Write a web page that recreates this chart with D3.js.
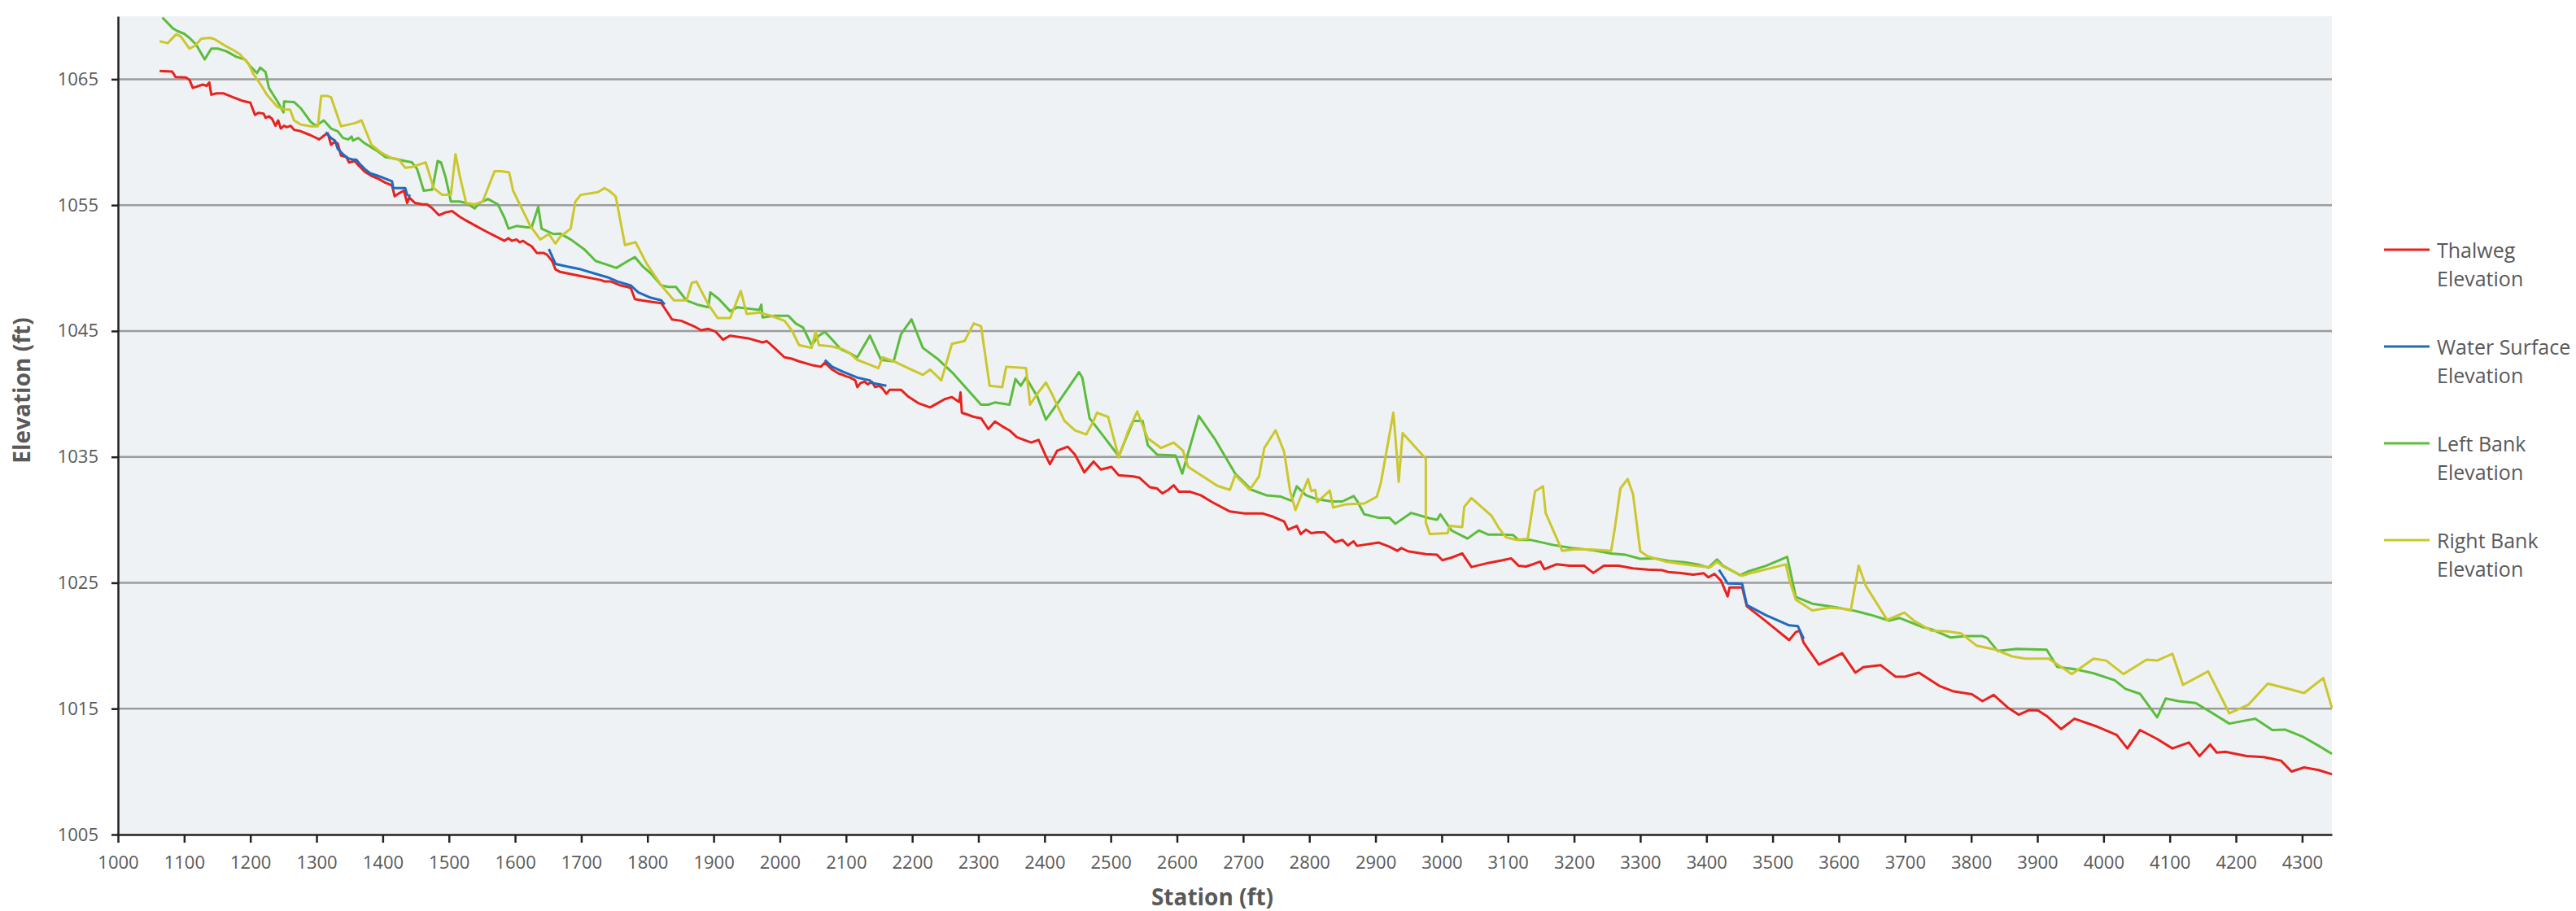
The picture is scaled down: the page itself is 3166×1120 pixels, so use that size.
<!DOCTYPE html>
<html>
<head>
<meta charset="utf-8">
<script src="https://cdn.jsdelivr.net/npm/d3@7"></script>
<style>
	body { margin: 0; background: #fff; }
	svg { display: block; font-family: 'Open Sans', sans-serif; }
</style>
</head>
<body>
<div id="chart"></div>
<script>

// Series (station ft, elevation ft)
var thalwegStation = [1063,1082,1087,1103,1108,1113,1128,1134,1138,1141,1149,1159,1174,1187,1200,1207,1212,1220,1223,1228,1233,1238,1242,1246,1251,1255,1261,1266,1276,1291,1304,1312,1317,1322,1327,1332,1337,1345,1349,1358,1363,1373,1383,1393,1404,1414,1418,1424,1432,1437,1440,1449,1460,1467,1475,1485,1495,1505,1516,1526,1541,1556,1572,1584,1590,1595,1602,1607,1612,1618,1625,1633,1643,1648,1656,1661,1668,1689,1709,1730,1735,1745,1760,1770,1775,1781,1791,1805,1821,1837,1851,1870,1881,1892,1903,1914,1925,1952,1974,1980,1985,1996,2007,2018,2029,2051,2062,2068,2079,2089,2095,2100,2106,2114,2117,2122,2128,2133,2139,2144,2150,2155,2161,2166,2183,2194,2210,2227,2238,2249,2260,2271,2273,2275,2282,2293,2304,2315,2325,2336,2347,2358,2369,2380,2391,2402,2408,2419,2435,2446,2460,2474,2485,2501,2512,2534,2543,2559,2570,2578,2587,2595,2603,2620,2636,2653,2680,2702,2729,2746,2762,2768,2781,2787,2795,2803,2812,2823,2839,2850,2858,2867,2872,2905,2921,2933,2939,2949,2976,2993,3001,3015,3031,3045,3070,3092,3105,3116,3127,3138,3149,3155,3174,3193,3215,3229,3245,3267,3289,3311,3333,3342,3361,3380,3396,3403,3412,3422,3432,3435,3454,3461,3490,3525,3535,3541,3547,3570,3605,3625,3637,3663,3686,3699,3721,3753,3772,3801,3817,3834,3856,3872,3888,3901,3914,3936,3956,3991,4020,4036,4055,4081,4104,4129,4145,4161,4171,4184,4216,4242,4268,4284,4303,4325,4345];
var thalwegElev = [1065.66,1065.6,1065.17,1065.13,1064.95,1064.31,1064.57,1064.48,1064.74,1063.77,1063.88,1063.88,1063.56,1063.3,1063.13,1062.16,1062.33,1062.27,1061.94,1062.05,1061.84,1061.3,1061.73,1061.08,1061.3,1061.19,1061.3,1060.98,1060.87,1060.55,1060.22,1060.55,1060.7,1059.79,1060.01,1059.9,1058.93,1058.82,1058.39,1058.5,1058.18,1057.64,1057.32,1057.1,1056.78,1056.57,1055.71,1055.92,1056.14,1055.17,1055.6,1055.17,1055.06,1055.06,1054.74,1054.2,1054.42,1054.52,1054.09,1053.77,1053.34,1052.91,1052.48,1052.16,1052.37,1052.16,1052.27,1052.05,1052.16,1051.94,1051.73,1051.19,1051.19,1051.08,1050.55,1049.9,1049.69,1049.47,1049.26,1049.04,1048.93,1048.93,1048.61,1048.5,1048.39,1047.53,1047.43,1047.32,1047.21,1045.92,1045.81,1045.38,1045.06,1045.17,1044.95,1044.31,1044.63,1044.42,1044.09,1044.2,1043.98,1043.45,1042.91,1042.8,1042.59,1042.26,1042.16,1042.48,1041.94,1041.62,1041.51,1041.4,1041.3,1041.08,1040.54,1040.87,1040.97,1040.76,1040.97,1040.54,1040.65,1040.44,1040.01,1040.33,1040.33,1039.79,1039.25,1038.93,1039.25,1039.58,1039.75,1039.36,1040.12,1038.5,1038.39,1038.18,1038.07,1037.21,1037.81,1037.43,1037.1,1036.57,1036.35,1036.14,1036.35,1035.06,1034.42,1035.49,1035.81,1035.17,1033.77,1034.63,1033.99,1034.2,1033.55,1033.45,1033.35,1032.59,1032.49,1032.1,1032.38,1032.75,1032.23,1032.23,1031.95,1031.41,1030.66,1030.51,1030.51,1030.23,1029.86,1029.22,1029.52,1028.87,1029.22,1028.94,1029.0,1029.0,1028.23,1028.4,1027.97,1028.29,1027.93,1028.19,1027.86,1027.54,1027.76,1027.5,1027.28,1027.22,1026.79,1027.0,1027.33,1026.25,1026.57,1026.79,1026.94,1026.36,1026.29,1026.47,1026.68,1026.08,1026.47,1026.36,1026.36,1025.78,1026.36,1026.36,1026.14,1026.04,1026.0,1025.86,1025.77,1025.64,1025.75,1025.43,1025.71,1025.17,1023.92,1024.63,1024.63,1023.13,1021.94,1020.44,1021.08,1021.19,1020.22,1018.5,1019.4,1017.86,1018.29,1018.46,1017.53,1017.53,1017.86,1016.78,1016.39,1016.14,1015.6,1016.09,1015.06,1014.52,1014.89,1014.85,1014.42,1013.38,1014.2,1013.56,1012.91,1011.84,1013.3,1012.59,1011.84,1012.31,1011.23,1012.16,1011.51,1011.58,1011.23,1011.15,1010.87,1010.01,1010.33,1010.12,1009.79];

// null elevations mark the gaps between the measured water surface reaches
var waterStation = [1314,1322,1328,1332,1340,1348,1355,1360,1365,1373,1381,1393,1404,1414,1416,1426,1434,1437,1442,1500,1651,1661,1679,1699,1719,1740,1755,1775,1786,1805,1821,1826,1900,2068,2079,2095,2117,2136,2139,2161,2300,3419,3432,3454,3461,3490,3525,3538,3547];
var waterElev = [1060.8,1060.33,1060.12,1059.47,1059.04,1058.72,1058.61,1058.61,1058.29,1057.86,1057.53,1057.32,1057.1,1056.89,1056.35,1056.35,1056.35,1055.81,1055.71,null,1051.51,1050.33,1050.11,1049.9,1049.58,1049.26,1048.93,1048.61,1048.07,1047.64,1047.43,1047.1,null,1042.7,1042.16,1041.77,1041.3,1041.08,1040.87,1040.65,null,1026.03,1024.95,1024.91,1023.23,1022.42,1021.62,1021.56,1020.54];

var leftStation = [1067,1083,1090,1100,1108,1118,1131,1141,1151,1164,1179,1192,1200,1210,1215,1223,1228,1241,1250,1251,1266,1276,1291,1299,1311,1322,1332,1340,1348,1353,1355,1363,1373,1383,1393,1404,1414,1424,1434,1444,1452,1462,1475,1483,1488,1495,1503,1516,1526,1539,1546,1559,1574,1584,1590,1602,1618,1625,1635,1640,1658,1668,1684,1704,1722,1735,1753,1770,1781,1793,1805,1821,1832,1843,1859,1875,1892,1895,1908,1925,1936,1952,1969,1972,1974,1991,2013,2024,2035,2048,2059,2068,2079,2092,2106,2117,2136,2153,2172,2183,2199,2216,2238,2260,2282,2304,2315,2325,2347,2356,2364,2372,2389,2402,2424,2452,2457,2468,2490,2512,2534,2548,2556,2570,2598,2608,2633,2658,2688,2713,2735,2757,2773,2781,2795,2812,2834,2850,2867,2872,2883,2905,2921,2930,2954,2982,2993,2998,3015,3039,3056,3070,3092,3108,3116,3135,3168,3196,3229,3256,3278,3300,3322,3344,3367,3387,3403,3416,3425,3451,3464,3490,3522,3535,3560,3599,3625,3650,3676,3692,3727,3740,3769,3792,3817,3824,3840,3869,3914,3930,3959,3985,4017,4033,4055,4081,4094,4113,4139,4158,4190,4229,4255,4274,4300,4325,4345];
var leftElev = [1069.9,1069.04,1068.82,1068.61,1068.29,1067.75,1066.57,1067.43,1067.43,1067.21,1066.78,1066.57,1066.03,1065.49,1065.92,1065.56,1064.31,1063.23,1062.37,1063.23,1063.19,1062.7,1061.62,1061.3,1061.73,1061.08,1060.87,1060.33,1060.22,1060.44,1060.12,1060.33,1059.9,1059.58,1059.26,1058.82,1058.72,1058.61,1058.5,1058.4,1057.86,1056.14,1056.24,1058.5,1058.4,1057.21,1055.28,1055.28,1055.17,1054.74,1055.17,1055.49,1055.06,1053.99,1053.13,1053.34,1053.23,1053.23,1054.85,1053.13,1052.7,1052.74,1052.27,1051.51,1050.55,1050.33,1050.01,1050.55,1050.87,1050.12,1049.58,1048.61,1048.5,1048.5,1047.43,1047.1,1046.89,1048.07,1047.53,1046.57,1046.89,1046.78,1046.67,1047.1,1046.07,1046.2,1046.2,1045.6,1045.28,1043.88,1044.63,1044.95,1044.31,1043.55,1043.23,1042.91,1044.63,1042.7,1042.59,1044.74,1045.92,1043.66,1042.8,1041.73,1040.44,1039.15,1039.15,1039.32,1039.15,1041.19,1040.65,1041.3,1039.79,1037.96,1039.58,1041.73,1041.3,1038.07,1036.57,1035.06,1037.86,1037.86,1035.92,1035.18,1035.11,1033.67,1038.25,1036.36,1033.67,1032.38,1031.95,1031.84,1031.52,1032.66,1031.95,1031.63,1031.46,1031.46,1031.89,1031.52,1030.44,1030.16,1030.16,1029.69,1030.55,1030.12,1030.01,1030.44,1029.15,1028.51,1029.15,1028.83,1028.83,1028.79,1028.4,1028.4,1028.01,1027.76,1027.58,1027.33,1027.22,1026.9,1026.94,1026.72,1026.63,1026.46,1026.2,1026.85,1026.35,1025.6,1025.92,1026.35,1027.06,1023.88,1023.34,1023.02,1022.76,1022.42,1021.99,1022.2,1021.47,1021.3,1020.65,1020.76,1020.76,1020.61,1019.58,1019.75,1019.68,1018.33,1018.11,1017.81,1017.25,1016.57,1016.18,1014.31,1015.81,1015.6,1015.45,1014.85,1013.81,1014.2,1013.3,1013.34,1012.8,1012.05,1011.41];

var rightStation = [1063,1075,1088,1095,1108,1116,1126,1139,1146,1159,1174,1184,1197,1205,1215,1225,1241,1251,1260,1266,1276,1291,1302,1307,1317,1322,1337,1358,1368,1383,1398,1414,1424,1434,1444,1465,1477,1490,1503,1510,1516,1526,1539,1551,1569,1579,1591,1597,1610,1623,1638,1651,1661,1668,1684,1691,1699,1725,1735,1742,1752,1766,1782,1799,1821,1840,1859,1867,1874,1892,1906,1925,1941,1950,1969,1985,1996,2007,2018,2029,2048,2054,2059,2079,2095,2106,2117,2128,2149,2155,2172,2194,2216,2227,2244,2260,2279,2293,2304,2317,2336,2342,2372,2378,2389,2402,2411,2430,2446,2463,2474,2479,2496,2512,2526,2540,2556,2576,2595,2609,2617,2661,2680,2688,2710,2724,2732,2749,2762,2771,2779,2798,2803,2809,2812,2831,2836,2856,2883,2902,2908,2927,2933,2935,2941,2976,2976,2982,3009,3012,3031,3034,3045,3075,3086,3097,3113,3130,3141,3153,3157,3182,3199,3226,3256,3262,3270,3281,3289,3300,3311,3339,3366,3393,3406,3416,3425,3454,3470,3520,3525,3535,3560,3586,3602,3618,3630,3641,3673,3699,3715,3740,3766,3785,3808,3837,3862,3882,3917,3952,3985,4004,4030,4065,4081,4104,4120,4158,4190,4219,4248,4280,4303,4332,4345];
var rightElev = [1068.01,1067.86,1068.57,1068.39,1067.43,1067.64,1068.22,1068.29,1068.18,1067.75,1067.32,1067.0,1066.24,1065.38,1064.63,1063.77,1062.8,1062.59,1062.59,1061.73,1061.4,1061.26,1061.26,1063.66,1063.66,1063.56,1061.26,1061.51,1061.73,1059.79,1059.15,1058.72,1058.65,1057.96,1058.03,1058.39,1056.35,1055.81,1055.81,1059.04,1057.43,1055.17,1055.06,1055.28,1057.69,1057.69,1057.6,1056.14,1054.74,1053.34,1052.27,1052.7,1051.94,1052.48,1053.13,1055.28,1055.81,1056.03,1056.35,1056.14,1055.7,1051.83,1052.05,1050.33,1048.61,1047.43,1047.43,1048.82,1048.93,1047.1,1046.03,1046.03,1048.18,1046.35,1046.46,1046.24,1046.03,1045.81,1045.06,1043.88,1043.66,1044.95,1043.88,1043.77,1043.55,1043.23,1042.7,1042.48,1042.05,1042.91,1042.59,1042.05,1041.51,1041.94,1041.08,1043.98,1044.2,1045.6,1045.38,1040.65,1040.54,1042.16,1042.05,1039.15,1040.01,1040.91,1040.01,1037.86,1037.1,1036.78,1037.86,1038.5,1038.18,1034.95,1037.0,1038.61,1036.46,1035.71,1036.14,1035.5,1034.21,1032.7,1032.38,1033.56,1032.38,1033.45,1035.71,1037.11,1035.39,1032.27,1030.77,1033.24,1032.27,1032.38,1031.41,1032.32,1030.98,1031.24,1031.3,1031.84,1032.92,1038.51,1034.64,1033.02,1036.89,1034.85,1029.8,1028.87,1028.94,1029.52,1029.43,1031.02,1031.73,1030.34,1029.37,1028.62,1028.4,1028.51,1032.27,1032.66,1030.55,1027.54,1027.65,1027.65,1027.54,1029.48,1032.49,1033.24,1032.06,1027.5,1027.11,1026.68,1026.47,1026.29,1026.24,1026.67,1026.29,1025.56,1025.81,1026.46,1025.28,1023.66,1022.8,1023.02,1022.97,1022.8,1026.35,1024.74,1022.05,1022.63,1021.94,1021.19,1021.13,1020.97,1020.01,1019.68,1019.15,1018.97,1018.97,1017.75,1018.97,1018.82,1017.75,1018.89,1018.82,1019.36,1016.89,1017.96,1014.63,1015.32,1016.99,1016.57,1016.24,1017.43,1015.06];

var xTicks = d3.range(1000, 4301, 100);
var yTicks = [1005, 1015, 1025, 1035, 1045, 1055, 1065];
var gridTicks = [1015, 1025, 1035, 1045, 1055, 1065];
var seriesNames = [['Thalweg', 'Elevation'], ['Water Surface', 'Elevation'], ['Left Bank', 'Elevation'], ['Right Bank', 'Elevation']];
var seriesColors = ['#e8221e', '#1f6bc2', '#5bbd3b', '#cbc72c'];

var width = 3166, height = 1120;
var plot = {left: 145, right: 2866, top: 20, bottom: 1026};
var textColor = '#595959';

/**
 * Pairs a station array with its elevation array
 */
var zipSeries = function(stations, elevs) {
	return stations.map(function(s, i) { return {x: s, y: elevs[i]}; });
}

var series = [
	zipSeries(thalwegStation, thalwegElev),
	zipSeries(waterStation, waterElev),
	zipSeries(leftStation, leftElev),
	zipSeries(rightStation, rightElev)
];

var x = d3.scaleLinear().domain([1000, 4345]).range([plot.left, plot.right]);
var y = d3.scaleLinear().domain([1005, 1070]).range([plot.bottom, plot.top]);

var svg = d3.select('#chart').append('svg')
	.attr('width', width)
	.attr('height', height);

svg.append('rect')
	.attr('width', width)
	.attr('height', height)
	.attr('fill', '#ffffff');

svg.append('rect')
	.attr('x', plot.left)
	.attr('y', plot.top)
	.attr('width', plot.right - plot.left)
	.attr('height', plot.bottom - plot.top)
	.attr('fill', '#eef2f5');

// horizontal gridlines
svg.append('g').selectAll('.grid').data(gridTicks).enter().append('line')
	.attr('class', 'grid')
	.attr('x1', plot.left)
	.attr('x2', plot.right)
	.attr('y1', function(d) { return y(d); })
	.attr('y2', function(d) { return y(d); })
	.attr('stroke', '#9c9c9c')
	.attr('stroke-width', 2.5);

var line = d3.line()
	.defined(function(d) { return d.y != null; })
	.x(function(d) { return x(d.x); })
	.y(function(d) { return y(d.y); });

svg.append('g').selectAll('.series').data(series).enter().append('path')
	.attr('class', 'series')
	.attr('fill', 'none')
	.attr('stroke', function(d, i) { return seriesColors[i]; })
	.attr('stroke-width', 3)
	.attr('stroke-linejoin', 'round')
	.attr('d', line);

// axes
var yAxis = svg.append('g')
	.attr('transform', 'translate(' + plot.left + ',0)')
	.call(d3.axisLeft(y).tickValues(yTicks).tickSize(8).tickPadding(16).tickSizeOuter(0).tickFormat(d3.format('d')));

var xAxis = svg.append('g')
	.attr('transform', 'translate(0,' + plot.bottom + ')')
	.call(d3.axisBottom(x).tickValues(xTicks).tickSize(10).tickPadding(16).tickSizeOuter(0).tickFormat(d3.format('d')));

[yAxis, xAxis].forEach(function(a) {
	a.select('.domain').attr('stroke', '#222').attr('stroke-width', 2.5);
	a.selectAll('.tick line').attr('stroke', '#222').attr('stroke-width', 2.5);
	a.selectAll('.tick text')
		.attr('fill', textColor)
		.style('font-size', '22px')
		.style('font-family', "'Open Sans', sans-serif");
});

// axis titles
svg.append('text')
	.attr('transform', 'translate(26,480) rotate(-90)')
	.attr('text-anchor', 'middle')
	.attr('dominant-baseline', 'central')
	.attr('fill', textColor)
	.style('font-size', '28px')
	.style('font-weight', 'bold')
	.text('Elevation (ft)');

svg.append('text')
	.attr('x', 1490)
	.attr('y', 1102)
	.attr('text-anchor', 'middle')
	.attr('dominant-baseline', 'central')
	.attr('fill', textColor)
	.style('font-size', '28px')
	.style('font-weight', 'bold')
	.text('Station (ft)');

// legend
var legend = svg.append('g').selectAll('.legend').data(seriesNames).enter().append('g')
	.attr('class', 'legend')
	.attr('transform', function(d, i) { return 'translate(2930,' + (307 + i * 119) + ')'; });

legend.append('line')
	.attr('x1', 0)
	.attr('x2', 56)
	.attr('stroke', function(d, i) { return seriesColors[i]; })
	.attr('stroke-width', 3);

legend.selectAll('text').data(function(d) { return d; }).enter().append('text')
	.attr('x', 65)
	.attr('y', function(d, i) { return i * 35; })
	.attr('dominant-baseline', 'central')
	.attr('fill', textColor)
	.style('font-size', '25px')
	.text(function(d) { return d; });

</script>
</body>
</html>
